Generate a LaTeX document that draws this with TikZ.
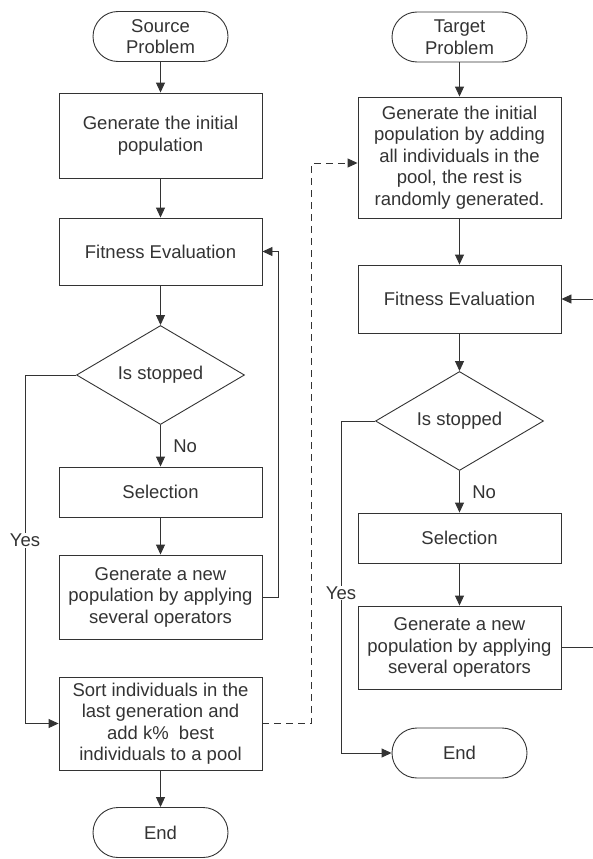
\documentclass[tikz,border=0pt]{standalone}
\usepackage{fontspec}
\setmainfont{Liberation Sans}
\usetikzlibrary{arrows.meta, shapes, positioning}
\definecolor{ink}{HTML}{333333}

\begin{document}
\begin{tikzpicture}[node distance=100pt, on grid, auto, >={Triangle[length=10pt,width=9pt]},
	color=ink, line width=0.9pt,
	every node/.style={font=\fontsize{18.5}{21.5}\selectfont},
	box/.style={draw, rectangle, minimum width=203pt, align=center, inner sep=2pt},
	term/.style={draw, rectangle, rounded corners=25pt, minimum width=135pt, minimum height=50pt, align=center, inner sep=1pt},
	cond/.style={draw, diamond, aspect=1.7, minimum width=168pt, minimum height=99pt, inner sep=0pt}]
	\useasboundingbox (0,0) rectangle (592pt,-859pt);
	
	% source problem
	\node[term] (src) at (160.5pt,-36.5pt) {Source\\Problem};
	\node[box, below = 99pt of src, minimum height=85pt] (ini) {Generate the initial\\population};
	\node[box, below = 116pt of ini, minimum height=67pt] (fit) {Fitness Evaluation};
	\node[cond, below = 123.5pt of fit] (dec) {Is stopped};
	\node[box, below = 117pt of dec, minimum height=50pt] (sel) {Selection};
	\node[box, below = 105pt of sel, minimum height=84pt] (gen) {Generate a new\\population by applying\\several operators};
	\node[box, below = 126.5pt of gen, minimum height=93pt] (srt) {Sort individuals in the\\last generation and\\add k\%\ \ best\\individuals to a pool};
	\node[term, below = 109pt of srt] (endA) {End};
	
	% target problem
	\node[term] (tgt) at (459.5pt,-37pt) {Target\\Problem};
	\node[box, below = 120.5pt of tgt, minimum height=121pt] (iniB) {Generate the initial\\population by adding\\all individuals in the\\pool, the rest is\\randomly generated.};
	\node[box, below = 141.5pt of iniB, minimum height=68pt] (fitB) {Fitness Evaluation};
	\node[cond, below = 122pt of fitB] (decB) {Is stopped};
	\node[box, below = 117pt of decB, minimum height=50pt] (selB) {Selection};
	\node[box, below = 109.5pt of selB, minimum height=83pt] (genB) {Generate a new\\population by applying\\several operators};
	\node[term, below = 105.5pt of genB] (endB) {End};
	
	\path[->] (src) edge (ini)
	(ini) edge (fit)
	(fit) edge (dec)
	(dec) edge node[xshift=9pt] {No} (sel)
	(sel) edge (gen)
	(srt) edge (endA)
	(tgt) edge (iniB)
	(iniB) edge (fitB)
	(fitB) edge (decB)
	(decB) edge node[xshift=9pt] {No} (selB)
	(selB) edge (genB);
	
	\draw[->] (gen.east) -- ++(16pt,0) |- (fit.east);
	\draw[->] (dec.west) -- ++(-51pt,0) |- node[pos=.237, fill=white, anchor=center, inner sep=1pt] {Yes} (srt.west);
	\draw[->, dash pattern=on 7pt off 5pt] (srt.east) -- ++(49pt,0) |- ([yshift=-5.5pt]iniB.west);
	\draw[->] (genB.east) -- ++(45pt,0) |- (fitB.east);
	\draw[->] (decB.west) -- ++(-34pt,0) |- node[pos=.259, fill=white, anchor=center, inner sep=1pt] {Yes} (endB.west);
\end{tikzpicture}
\end{document}
